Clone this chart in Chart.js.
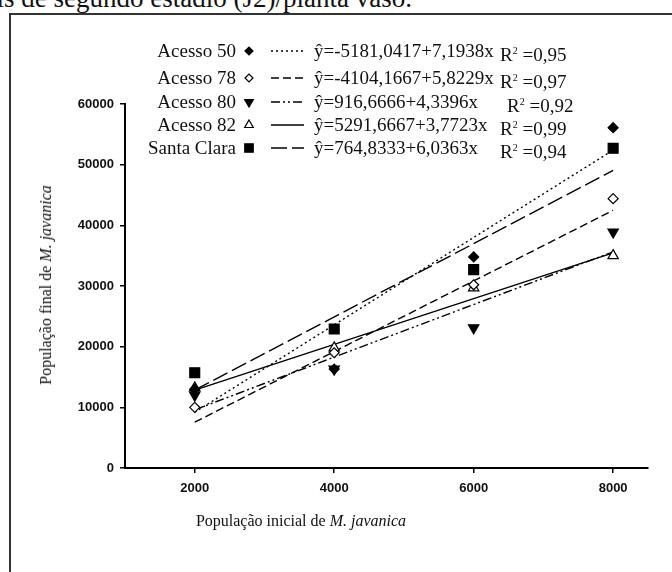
<!DOCTYPE html>
<html>
<head>
<meta charset="utf-8">
<script src="https://cdn.jsdelivr.net/npm/chart.js@4.4.1/dist/chart.umd.min.js"></script>
<style>
  body { margin: 0; width: 672px; height: 572px; overflow: hidden; background: #fff; position: relative; font-family: "Liberation Serif", "Times New Roman", serif; color: #111; }
  #frame { position: absolute; left: 9px; top: 13px; width: 700px; height: 600px; border-left: 2px solid #333; border-top: 2px solid #333; }
  #caption { position: absolute; right: 260px; top: -15px; font-size: 27px; line-height: 27px; white-space: nowrap; }
  #wrap { position: absolute; left: 0; top: 0; width: 672px; height: 572px; }
  .leg { position: absolute; font-size: 19px; line-height: 19px; white-space: nowrap; }
  .lab { text-align: right; width: 140px; }
  .axt { position: absolute; font-size: 16px; white-space: nowrap; }
  sup { font-size: 10px; vertical-align: 7px; }
</style>
</head>
<body>
<div id="caption">juvenis de segundo estádio (J2)/planta vaso.</div>
<div id="frame"></div>
<div id="wrap"><canvas id="chart" width="672" height="572"></canvas></div>
<div id="legend"></div>
<div class="axt" id="xtitle" style="left:301px; top:521px; transform:translate(-50%,-50%);">População inicial de <i>M. javanica</i></div>
<div class="axt" id="ytitle" style="left:46px; top:285px; transform:translate(-50%,-50%) rotate(-90deg);">População final de <i>M. javanica</i></div>
<script>
// valores
const popInicial = [2000, 4000, 6000, 8000];
const xTicks = [2000, 4000, 6000, 8000];
const seriesNames = ['Acesso 50', 'Acesso 78', 'Acesso 80', 'Acesso 82', 'Santa Clara'];
const acesso50 = [13000, 16300, 34800, 56100];
const acesso78 = [10000, 19000, 30200, 44400];
const acesso80 = [12000, 16300, 23100, 38900];
const acesso82 = [13200, 19800, 29700, 35000];
const santaClara = [15700, 22900, 32700, 52700];
// retas ajustadas (extremos em 2000 e 8000)
const trendX = [2000, 8000];
const trend50 = [9200, 52400];
const trend78 = [7550, 42480];
const trend80 = [9600, 35630];
const trend82 = [12840, 35470];
const trendSC = [12840, 49050];
const equations = ['ŷ=-5181,0417+7,1938x', 'ŷ=-4104,1667+5,8229x', 'ŷ=916,6666+4,3396x', 'ŷ=5291,6667+3,7723x', 'ŷ=764,8333+6,0363x'];
const r2Values = ['0,95', '0,97', '0,92', '0,99', '0,94'];

const styles = [
  { pointStyle: 'rectRot', rotation: 0, radius: 5, fill: '#000', dash: [2, 3] },
  { pointStyle: 'rectRot', rotation: 0, radius: 5, fill: '#fff', dash: [8, 4] },
  { pointStyle: 'triangle', rotation: 180, radius: 6, fill: '#000', dash: [9, 3, 2, 3, 2, 3] },
  { pointStyle: 'triangle', rotation: 0, radius: 6, fill: '#fff', dash: [] },
  { pointStyle: 'rect', rotation: 0, radius: 7, fill: '#000', dash: [16, 5] }
];
const pointSeries = [acesso50, acesso78, acesso80, acesso82, santaClara];
const trendSeries = [trend50, trend78, trend80, trend82, trendSC];

const rowY = [51, 78, 102, 125, 148];
const r2Left = [500, 500, 507, 500, 500];

// legenda em texto
const legend = document.getElementById('legend');
seriesNames.forEach((name, i) => {
  legend.insertAdjacentHTML('beforeend',
    `<div class="leg lab" style="left:96px; top:${rowY[i] - 10}px;">${name}</div>` +
    `<div class="leg" style="left:314px; top:${rowY[i] - 10}px;">${equations[i]}</div>` +
    `<div class="leg" style="left:${r2Left[i]}px; top:${rowY[i] - 10}px;">R<sup>2</sup> =${r2Values[i]}</div>`);
});

const datasets = [];
pointSeries.forEach((vals, i) => {
  const s = styles[i];
  datasets.push({
    label: seriesNames[i],
    data: popInicial.map((x, j) => ({ x: x, y: vals[j] })),
    showLine: false,
    pointStyle: s.pointStyle,
    rotation: s.rotation,
    pointRadius: s.radius,
    pointBackgroundColor: s.fill,
    pointBorderColor: '#000',
    pointBorderWidth: 1.2,
    order: 0
  });
});
trendSeries.forEach((vals, i) => {
  datasets.push({
    label: seriesNames[i] + ' ajuste',
    data: trendX.map((x, j) => ({ x: x, y: vals[j] })),
    showLine: true,
    borderColor: '#000',
    borderWidth: 1.4,
    borderDash: styles[i].dash,
    pointRadius: 0,
    order: 1
  });
});

const legendSymbols = {
  id: 'legendSymbols',
  afterDraw(chart) {
    const ctx = chart.ctx;
    styles.forEach((s, i) => {
      const y = rowY[i];
      ctx.save();
      ctx.fillStyle = s.fill;
      ctx.strokeStyle = '#000';
      ctx.lineWidth = 1.2;
      Chart.helpers.drawPoint(ctx, { pointStyle: s.pointStyle, rotation: s.rotation, radius: s.radius - 1, borderWidth: 1.2 }, 249, y);
      ctx.setLineDash(s.dash);
      ctx.lineWidth = 1.6;
      ctx.beginPath();
      ctx.moveTo(271, y);
      ctx.lineTo(304, y);
      ctx.stroke();
      ctx.restore();
    });
  }
};

const tickFont = { family: 'Liberation Sans', size: 13, weight: 'bold' };

new Chart(document.getElementById('chart'), {
  type: 'scatter',
  data: { datasets: datasets },
  options: {
    responsive: false,
    animation: false,
    layout: { padding: { left: 0, right: 24, top: 104, bottom: 0 } },
    plugins: { legend: { display: false }, tooltip: { enabled: false } },
    scales: {
      x: {
        type: 'linear',
        min: 1000,
        max: 8500,
        afterBuildTicks: (scale) => { scale.ticks = xTicks.map(v => ({ value: v })); },
        afterFit: (scale) => { scale.height = 104; },
        border: { display: true, color: '#000', width: 2 },
        grid: { drawOnChartArea: false, drawTicks: true, tickLength: 5, color: '#000', lineWidth: 1.5 },
        ticks: { color: '#111', padding: 8, font: tickFont, callback: (v) => String(v) }
      },
      y: {
        type: 'linear',
        min: 0,
        max: 60000,
        ticks: { stepSize: 10000, color: '#111', padding: 6, font: tickFont, callback: (v) => String(v) },
        afterFit: (scale) => { scale.width = 125; },
        border: { display: true, color: '#000', width: 2 },
        grid: { drawOnChartArea: false, drawTicks: true, tickLength: 5, color: '#000', lineWidth: 1.5 }
      }
    }
  },
  plugins: [legendSymbols]
});
</script>
</body>
</html>
